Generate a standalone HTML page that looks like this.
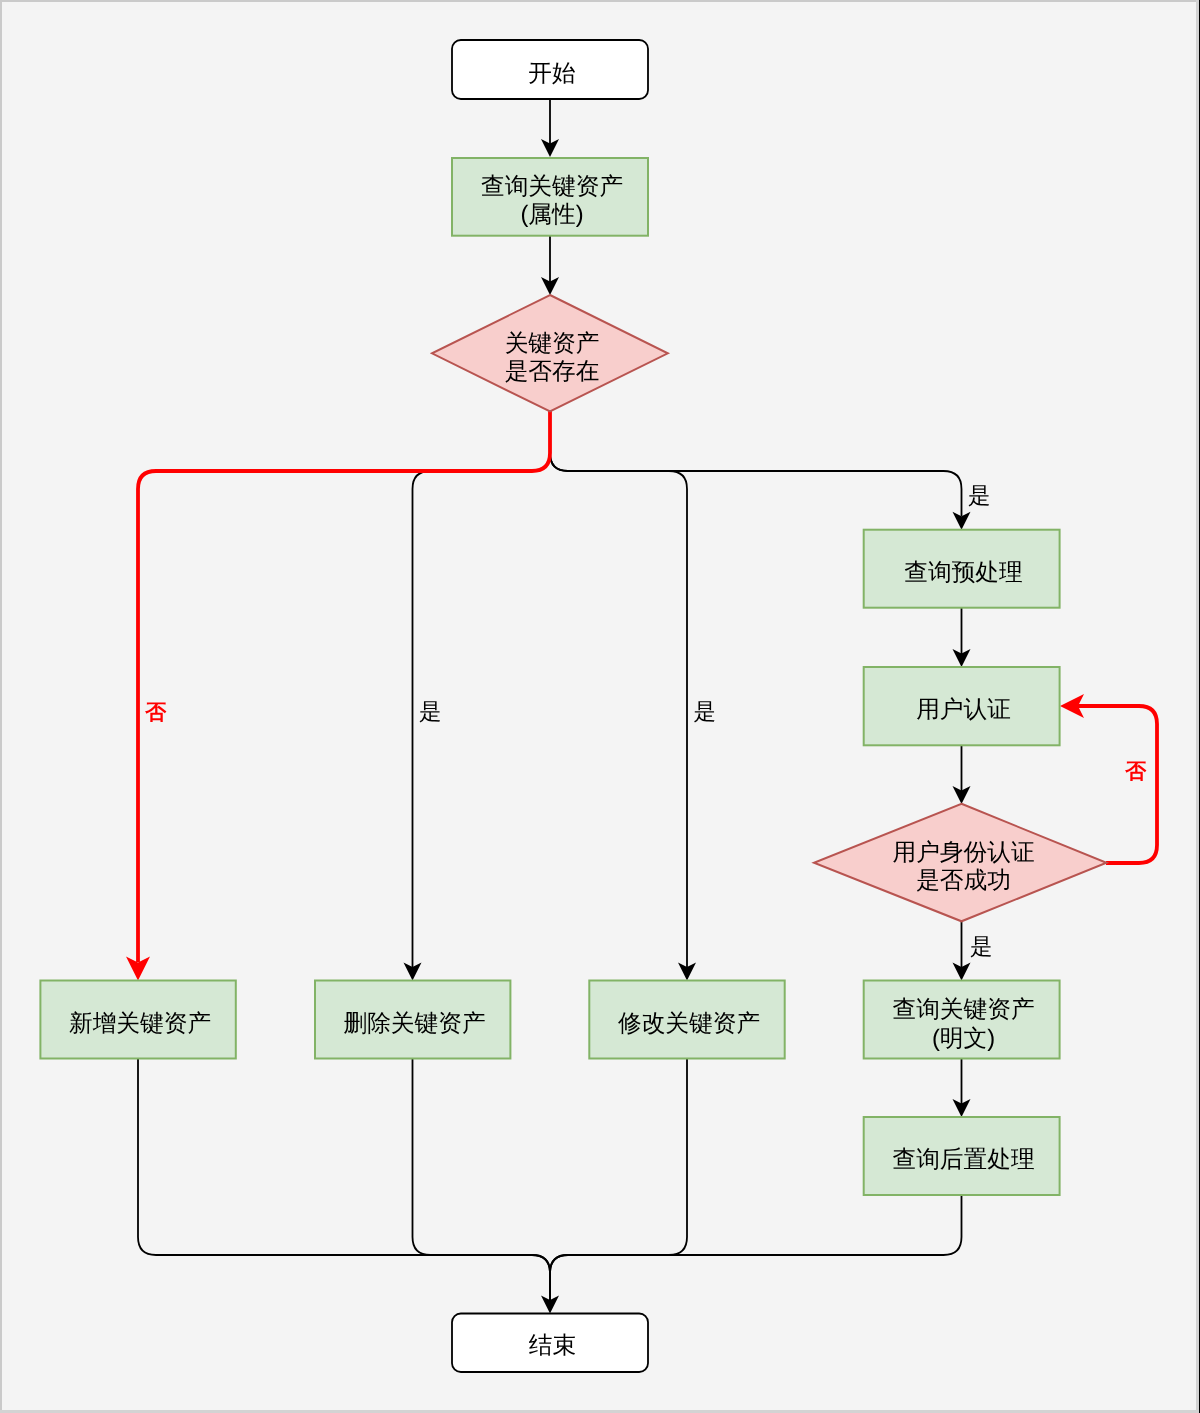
<!DOCTYPE html>
<html><head><meta charset="utf-8">
<style>
html,body{margin:0;padding:0;width:1200px;height:1413px;overflow:hidden;background:#f4f4f4;}
svg{display:block;position:absolute;left:0;top:0;will-change:transform;}
text{font-family:"Liberation Sans",sans-serif;text-rendering:geometricPrecision;}
.t{font-size:23.7px;fill:#000;}
.l{font-size:22.5px;fill:#000;}
.lr{font-size:21px;fill:#ff0000;font-weight:bold;}
</style></head>
<body>
<svg width="1200" height="1413" viewBox="0 0 1200 1413">
<!-- frame -->
<rect x="0" y="0" width="1200" height="1413" fill="#f4f4f4"/>
<rect x="0" y="0" width="1200" height="2" fill="#cacaca"/>
<rect x="0" y="0" width="2" height="1413" fill="#cacaca"/>
<rect x="1196" y="0" width="3" height="1413" fill="#d3d3d3"/>
<rect x="1199" y="0" width="1" height="1413" fill="#000"/>
<rect x="0" y="1410" width="1199" height="3" fill="#d3d3d3"/>

<g fill="none" stroke="#000" stroke-width="1.8">
<!-- start -> box A -->
<path d="M550,99 L550,144"/>
<path d="M550,236 L550,282"/>
<!-- branches from diamond 1 -->
<path d="M550,411 L550,453 Q550,471 532,471 L430.5,471 Q412.5,471 412.5,489 L412.5,967"/>
<path d="M550,411 L550,453 Q550,471 568,471 L669,471 Q687,471 687,489 L687,967"/>
<path d="M550,411 L550,453 Q550,471 568,471 L943.5,471 Q961.5,471 961.5,489 L961.5,516"/>
<!-- right column -->
<path d="M961.5,608 L961.5,654"/>
<path d="M961.5,745 L961.5,791"/>
<path d="M961.5,921 L961.5,967"/>
<path d="M961.5,1058.5 L961.5,1104"/>
<!-- merges -->
<path d="M138,1058.5 L138,1237 Q138,1255 156,1255 L532,1255 Q550,1255 550,1273 L550,1300"/>
<path d="M412.5,1058.5 L412.5,1237 Q412.5,1255 430.5,1255 L532,1255 Q550,1255 550,1273 L550,1300"/>
<path d="M687,1058.5 L687,1237 Q687,1255 669,1255 L568,1255 Q550,1255 550,1273 L550,1300"/>
<path d="M961.5,1195 L961.5,1237 Q961.5,1255 943.5,1255 L568,1255 Q550,1255 550,1273 L550,1300"/>
</g>
<g fill="#000" stroke="none">
<polygon points="550,157 541,139 550,143.5 559,139"/>
<polygon points="550,295 541,277 550,281.5 559,277"/>
<polygon points="412.5,980.5 403.5,962.5 412.5,967 421.5,962.5"/>
<polygon points="687,980.5 678,962.5 687,967 696,962.5"/>
<polygon points="961.5,529.7 952.5,511.7 961.5,516.2 970.5,511.7"/>
<polygon points="961.5,667 952.5,649 961.5,653.5 970.5,649"/>
<polygon points="961.5,804 952.5,786 961.5,790.5 970.5,786"/>
<polygon points="961.5,980.5 952.5,962.5 961.5,967 970.5,962.5"/>
<polygon points="961.5,1117 952.5,1099 961.5,1103.5 970.5,1099"/>
<polygon points="550,1313.5 541,1295.5 550,1300 559,1295.5"/>
</g>
<!-- red -->
<g fill="none" stroke="#ff0000" stroke-width="3.8">
<path d="M550,411 L550,453 Q550,471 532,471 L156,471 Q138,471 138,489 L138,962"/>
<path d="M1106,863 L1139,863 Q1157,863 1157,845 L1157,724 Q1157,706 1139,706 L1078,706"/>
</g>
<g fill="#ff0000" stroke="none">
<polygon points="138,980.5 126,956.5 138,962.5 150,956.5"/>
<polygon points="1060,706 1084,694 1078,706 1084,718"/>
</g>

<!-- shapes -->
<rect x="452" y="40" width="196" height="59" rx="8.8" fill="#fff" stroke="#000" stroke-width="1.8"/>
<rect x="452" y="158" width="196" height="77.7" fill="#d5e8d4" stroke="#82b366" stroke-width="2"/>
<polygon points="550,295 667.8,353.3 550,411.5 432,353.3" fill="#f8cecc" stroke="#b85450" stroke-width="2"/>
<rect x="40.4" y="980.5" width="195.4" height="78" fill="#d5e8d4" stroke="#82b366" stroke-width="2"/>
<rect x="315" y="980.5" width="195.4" height="78" fill="#d5e8d4" stroke="#82b366" stroke-width="2"/>
<rect x="589.3" y="980.5" width="195.4" height="78" fill="#d5e8d4" stroke="#82b366" stroke-width="2"/>
<rect x="863.7" y="529.7" width="195.9" height="78" fill="#d5e8d4" stroke="#82b366" stroke-width="2"/>
<rect x="863.7" y="667" width="195.9" height="78.3" fill="#d5e8d4" stroke="#82b366" stroke-width="2"/>
<polygon points="961.5,803.8 1106.5,862.8 961.5,921.3 814,862.8" fill="#f8cecc" stroke="#b85450" stroke-width="2"/>
<rect x="863.7" y="980.5" width="195.9" height="78" fill="#d5e8d4" stroke="#82b366" stroke-width="2"/>
<rect x="863.7" y="1117" width="195.9" height="78" fill="#d5e8d4" stroke="#82b366" stroke-width="2"/>
<rect x="452" y="1313.5" width="196" height="58.5" rx="8.8" fill="#fff" stroke="#000" stroke-width="1.8"/>

<!-- texts -->
<g text-anchor="middle">
<text class="t" x="552" y="81">开始</text>
<text class="t" x="552" y="194">查询关键资产</text>
<text class="t" x="552" y="222">(属性)</text>
<text class="t" x="552" y="351">关键资产</text>
<text class="t" x="552" y="379">是否存在</text>
<text class="t" x="140" y="1031">新增关键资产</text>
<text class="t" x="414.5" y="1031">删除关键资产</text>
<text class="t" x="689" y="1031">修改关键资产</text>
<text class="t" x="963.5" y="580">查询预处理</text>
<text class="t" x="963.5" y="717">用户认证</text>
<text class="t" x="963.5" y="860">用户身份认证</text>
<text class="t" x="963.5" y="888">是否成功</text>
<text class="t" x="963.5" y="1017">查询关键资产</text>
<text class="t" x="963.5" y="1046">(明文)</text>
<text class="t" x="963.5" y="1167.3">查询后置处理</text>
<text class="t" x="552.5" y="1352.5">结束</text>
</g>
<text class="lr" x="145.3" y="718.8">否</text>
<text class="l" x="419" y="718.5">是</text>
<text class="l" x="693.5" y="718.5">是</text>
<text class="l" x="968" y="503">是</text>
<text class="lr" x="1125.3" y="777.8">否</text>
<text class="l" x="970" y="954">是</text>
</svg>
</body></html>
